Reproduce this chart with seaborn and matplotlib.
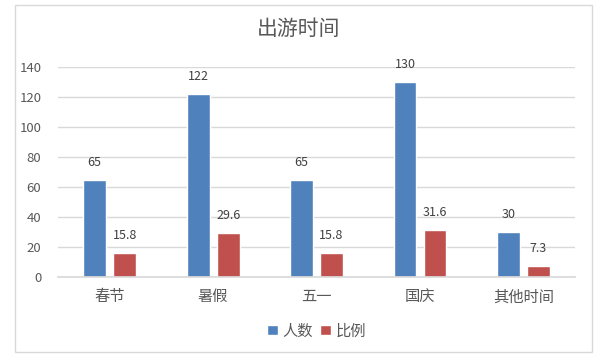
import numpy as np
import pandas as pd
import matplotlib
matplotlib.use("Agg")
import matplotlib.pyplot as plt
import seaborn as sns
from matplotlib.patches import Rectangle

categories = ["春节", "暑假", "五一", "国庆", "其他时间"]
people = [65, 122, 65, 130, 30]
ratio = [15.8, 29.6, 15.8, 31.6, 7.3]
series = ["人数", "比例"]

df = pd.DataFrame({
    "时间": categories * 2,
    "值": people + ratio,
    "系列": [series[0]] * len(categories) + [series[1]] * len(categories),
})

sns.set_theme(style="white")
plt.rcParams['font.family'] = ['Noto Sans CJK SC', 'DejaVu Sans']

fig = plt.figure(figsize=(6.1, 3.59), dpi=100)
ax = fig.add_axes([0.095, 0.228, 0.848, 0.585])

sns.barplot(data=df, x="时间", y="值", hue="系列", order=categories,
            hue_order=series, palette=["#4F81BD", "#C0504D"],
            width=0.58, gap=0.24, saturation=1, ax=ax)

for c in ax.containers:
    ax.bar_label(c, fmt="%g", padding=8, fontsize=9, color="#404040")

ax.set_ylim(0, 140)
ax.set_yticks(np.arange(0, 141, 20))
ax.yaxis.grid(True, color="#d9d9d9", linewidth=1)
ax.set_axisbelow(True)
for s in ["top", "right", "left"]:
    ax.spines[s].set_visible(False)
ax.spines["bottom"].set_color("#d9d9d9")
ax.set_xlabel("")
ax.set_ylabel("")
ax.tick_params(axis="y", labelsize=9.5, colors="#595959", length=0, pad=12)
ax.tick_params(axis="x", labelsize=11, colors="#595959", length=0, pad=8)

ax.legend(loc="upper center", bbox_to_anchor=(0.5, -0.15), ncol=2,
          frameon=False, handlelength=0.7, handleheight=0.7,
          handletextpad=0.3, columnspacing=0.5, fontsize=11,
          labelcolor="#595959")

fig.text(0.49, 0.92, "出游时间", ha="center", va="center", fontsize=15,
         color="#595959")

fig.patches.append(Rectangle((0.025, 0.02), 0.945, 0.965, transform=fig.transFigure,
                             fill=False, edgecolor="#d9d9d9", linewidth=1))

fig.savefig("out.png", dpi=100)
